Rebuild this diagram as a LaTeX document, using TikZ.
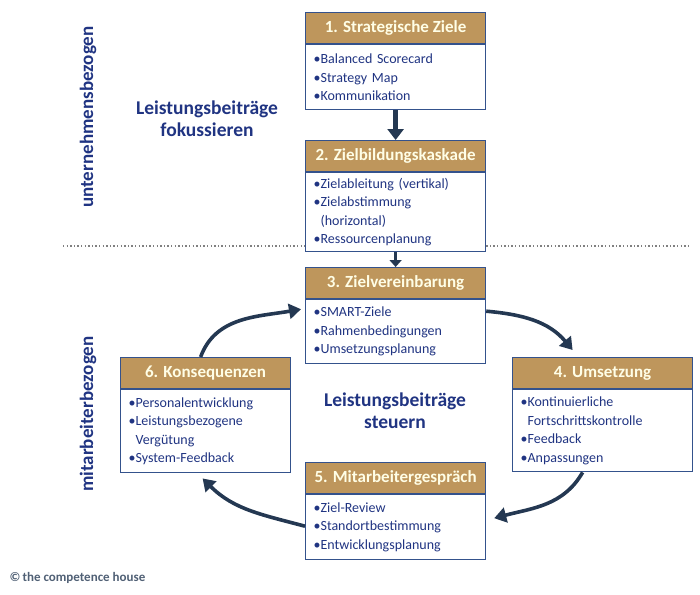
\documentclass[tikz,border=0pt]{standalone}
\usepackage{fontspec}
\setmainfont{Carlito}
\usetikzlibrary{arrows.meta}
\definecolor{gold}{RGB}{190,150,92}
\definecolor{rahmen}{RGB}{52,82,140}
\definecolor{schrift}{RGB}{32,52,130}
\definecolor{pfeil}{RGB}{36,56,82}
\tikzset{
  kopf/.style={draw=rahmen,line width=1.2pt,fill=gold,minimum width=180pt,minimum height=31pt,
    inner sep=0pt,anchor=north west,text=white!90!yellow,font=\fontsize{17}{19}\selectfont\bfseries},
  inhalt/.style={draw=rahmen,line width=1.2pt,fill=white,minimum width=180pt,text width=164pt,
    align=left,anchor=north,inner sep=0pt,text=schrift,font=\fontsize{14}{18.5}\selectfont},
  titel/.style={text=schrift,font=\fontsize{19.5}{22}\selectfont\bfseries,align=center},
  seite/.style={text=schrift,font=\fontsize{19}{21}\selectfont\bfseries,rotate=90},
  kreis/.style={pfeil,line width=3.6pt,-{Triangle[width=15pt,length=12pt]}}
}
\begin{document}
\begin{tikzpicture}[x=1pt,y=1pt]
  \useasboundingbox (0,0) rectangle (700,-594);
  % obere Ebene
  \node[seite] (ub) at (88,-117) {unternehmensbezogen};
  \node[titel] (fok) at (207,-119) {Leistungsbeiträge\\fokussieren};
  \node[kopf] (h1) at (305,-12) {1. Strategische Ziele};
  \node[inhalt,minimum height=65pt] (b1) at (h1.south)
    {•Balanced Scorecard\\•Strategy Map\\•Kommunikation};
  \node[kopf] (h2) at (305,-140) {2. Zielbildungskaskade};
  \node[inhalt,minimum height=79pt] (b2) at (h2.south)
    {•Zielableitung (vertikal)\\•Zielabstimmung\\\phantom{•}(horizontal)\\•Ressourcenplanung};
  \draw[pfeil,line width=5pt,-{Triangle[width=16pt,length=11pt]}] (b1.south) -- (h2.north);
  % Trennlinie
  \coordinate (tl) at (63,-246);
  \coordinate (tr) at (690,-246);
  \draw[gray,line width=1.4pt,dash pattern=on 1.4pt off 2.2pt] (tl) -- (b2.west |- tl);
  \draw[gray,line width=1.4pt,dash pattern=on 1.4pt off 2.2pt] (b2.east |- tl) -- (tr);
  % untere Ebene
  \node[seite] (mb) at (88,-414) {mitarbeiterbezogen};
  \node[titel] (st) at (395,-411) {Leistungsbeiträge\\steuern};
  \node[kopf] (h3) at (305,-267) {3. Zielvereinbarung};
  \node[inhalt,minimum height=64pt] (b3) at (h3.south)
    {•SMART-Ziele\\•Rahmenbedingungen\\•Umsetzungsplanung};
  \node[kopf] (h4) at (512,-357) {4. Umsetzung};
  \node[inhalt,minimum height=82pt] (b4) at (h4.south)
    {•Kontinuierliche\\\phantom{•}Fortschrittskontrolle\\•Feedback\\•Anpassungen};
  \node[kopf] (h5) at (305,-462) {5. Mitarbeitergespräch};
  \node[inhalt,minimum height=65pt] (b5) at (h5.south)
    {•Ziel-Review\\•Standortbestimmung\\•Entwicklungsplanung};
  \node[kopf,minimum width=170pt] (h6) at (120,-357) {6. Konsequenzen};
  \node[inhalt,minimum width=170pt,text width=154pt,minimum height=83pt] (b6) at (h6.south)
    {•Personalentwicklung\\•Leistungsbezogene\\\phantom{•}Vergütung\\•System-Feedback};
  \draw[pfeil,line width=3pt,-{Triangle[width=12pt,length=7pt]}] (b2.south) -- (h3.north);
  % Kreislauf
  \draw[kreis] ([xshift=-5pt]h6.north) to[out=70,in=190] ([xshift=-4pt,yshift=-10pt]b3.north west);
  \draw[kreis] ([yshift=-12pt]b3.north east) to[out=-5,in=130] ([xshift=-30pt,yshift=7pt]h4.north);
  \draw[kreis] ([xshift=-20pt]b4.south) to[out=-120,in=15] ([xshift=8pt,yshift=-24pt]b5.north east);
  \draw[kreis] ([yshift=-32pt]b5.north west) to[out=165,in=-45] ([xshift=-3pt,yshift=-5pt]b6.south);
  \node[anchor=west,text=pfeil!80,font=\fontsize{13}{15}\selectfont\bfseries] (ch) at (6,-578)
    {\textcopyright\,the competence house};
\end{tikzpicture}
\end{document}
